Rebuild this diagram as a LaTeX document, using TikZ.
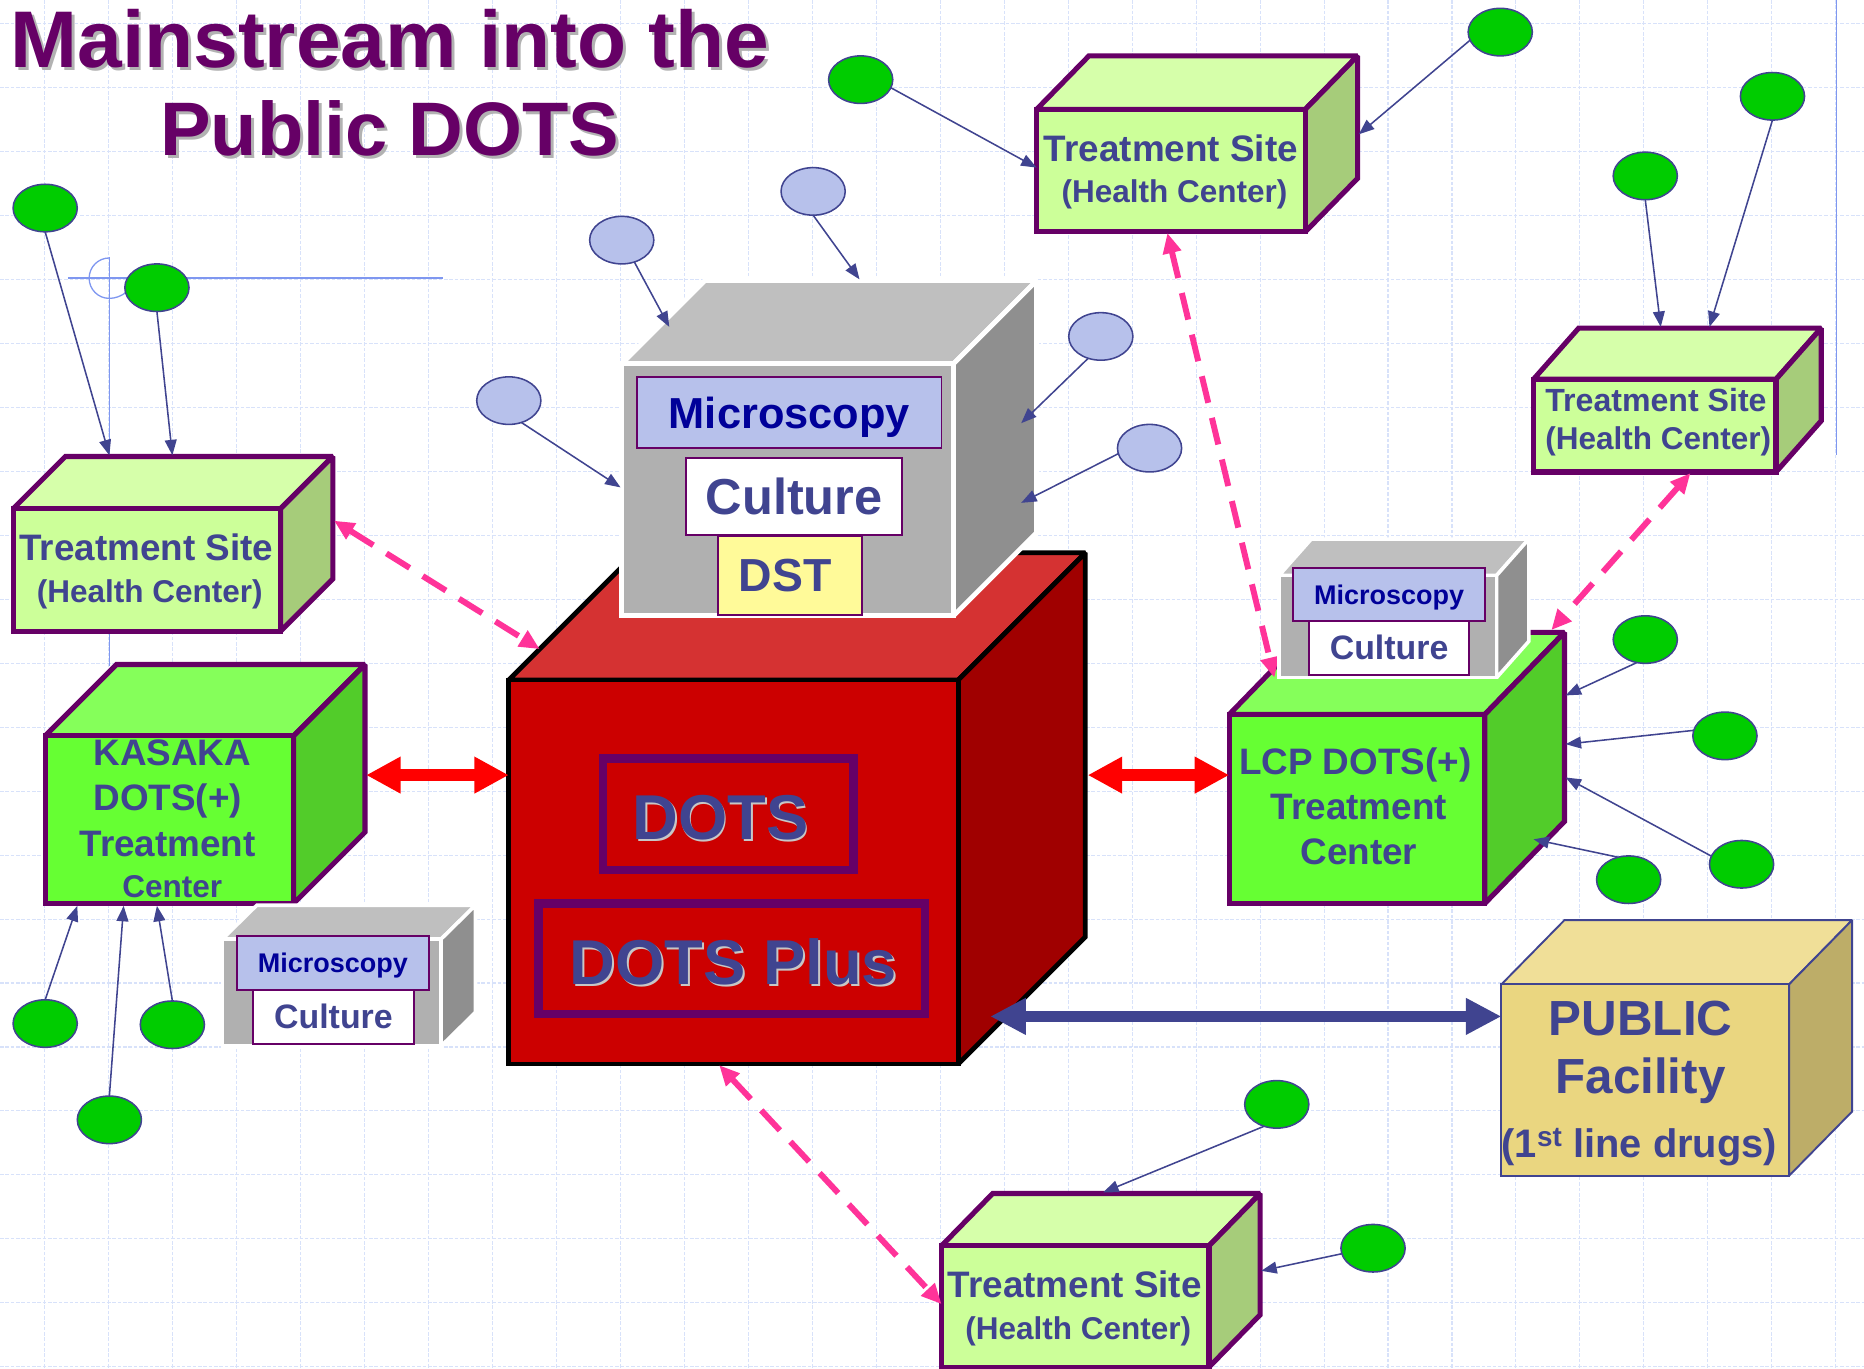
\documentclass[tikz,border=0pt]{standalone}
\usepackage{fontspec}
\setmainfont{Liberation Sans}
\usetikzlibrary{shapes.geometric,arrows.meta}
\definecolor{ink}{HTML}{404490}
\definecolor{plum}{HTML}{660066}
\definecolor{navyt}{HTML}{000099}
\definecolor{lav}{HTML}{B7C1EB}
\definecolor{gridc}{HTML}{D8E2FA}
\definecolor{rulec}{HTML}{7F97F0}
\definecolor{pinkc}{HTML}{FF3399}
\definecolor{leaf}{HTML}{00CC00}
\newcommand{\fs}[2]{\fontsize{#1}{#2}\selectfont}
% \cuboid{x1}{y1}{x2}{y2}{dx}{dy}{front}{top}{side}{edge}{lw}
\newcommand{\cuboid}[6]{%
  \def\cxa{#1}\def\cya{#2}\def\cxb{#3}\def\cyb{#4}\def\cdx{#5}\def\cdy{#6}\cuboidC}
\newcommand{\cuboidC}[5]{%
  \draw[line width=#5,draw=#4,line join=miter,miter limit=2,fill=#2]
    (\cxa,\cya) -- ({\cxa+\cdx},{\cya+\cdy}) -- ({\cxb+\cdx},{\cya+\cdy}) -- (\cxb,\cya) -- cycle;
  \draw[line width=#5,draw=#4,line join=miter,miter limit=2,fill=#3]
    (\cxb,\cya) -- ({\cxb+\cdx},{\cya+\cdy}) -- ({\cxb+\cdx},{\cyb+\cdy}) -- (\cxb,\cyb) -- cycle;
  \draw[line width=#5,draw=#4,line join=miter,fill=#1]
    (\cxa,\cya) rectangle (\cxb,\cyb);}
\newcommand{\link}[3]{\coordinate (#2) at (#3); \draw[feeder] (#1) -- (#2);}
\tikzset{
  x=1pt,y=-1pt,
  every node/.style={inner sep=0pt,outer sep=0pt},
  feeder/.style={draw=ink,line width=1.3pt,-{Triangle[length=13pt,width=10pt]}},
  redlink/.style={draw=red,line width=10pt,{Triangle[length=29pt,width=29pt]}-{Triangle[length=29pt,width=29pt]}},
  bluelink/.style={draw=ink,line width=9.5pt,{Triangle[length=30pt,width=29pt]}-{Triangle[length=30pt,width=29pt]}},
  pinklink/.style={draw=pinkc,line width=5pt,dash pattern=on 23pt off 13pt,{Triangle[length=17pt,width=15pt]}-{Triangle[length=17pt,width=15pt]}},
  green/.style={ellipse,draw=ink,fill=leaf,line width=1.3pt,minimum width=54pt,minimum height=40pt},
  lavel/.style={ellipse,draw=ink,fill=lav,line width=1.3pt,minimum width=54pt,minimum height=40pt},
  lab/.style={text=ink,align=center,font=\bfseries},
  tsl/.style={lab,font=\bfseries\fs{31}{35}},
  cen/.style={lab,font=\bfseries\fs{31}{38}},
  micl/.style={draw=plum,line width=1.6pt,fill=lav,text=navyt,text depth=0pt,font=\bfseries},
  cull/.style={draw=plum,line width=1.6pt,fill=white,text=ink,font=\bfseries},
  dstl/.style={draw=plum,line width=1.6pt,fill=yellow!40!white,text=ink,font=\bfseries},
  dotsbox/.style={draw=plum,line width=7pt,fill=none},
  ttl/.style={text=plum,font=\bfseries\fs{67.6}{74}},
  ttlb/.style={text=plum,font=\bfseries\fs{63.8}{74}},
  ttlsh/.style={text=black!30,font=\bfseries\fs{67.6}{74}},
  ttlbsh/.style={text=black!30,font=\bfseries\fs{63.8}{74}},
  bigt/.style={text=ink,font=\bfseries\fs{53.3}{60}},
  bigsh/.style={text=black!22,font=\bfseries\fs{53.3}{60}},
}
\begin{document}
\begin{tikzpicture}
\useasboundingbox (0,0) rectangle (1568,1151.6);
% background grid
\foreach \k in {0,...,28} {
  \draw[gridc,line width=.9pt,dash pattern=on 3pt off 1.5pt] ({37.8+53.8*\k},0) -- ({37.8+53.8*\k},1151.6);}
\foreach \k in {0,...,21} {
  \draw[gridc,line width=.9pt,dash pattern=on 3pt off 1.5pt] (0,{19.9+53.8*\k}) -- (1568,{19.9+53.8*\k});}
% slide guide lines
\draw[rulec,line width=1.3pt] (57,234) -- (373,234);
\draw[rulec,line width=1.3pt] (92,216) -- (92,560);
\draw[rulec,line width=1.1pt] (92,217) .. controls (82.6,217) and (75,224.5) .. (75,234) .. controls (75,243.5) and (82.6,251) .. (92,251) .. controls (97,251) and (102,249) .. (106,246);
\draw[rulec,line width=1.3pt] (1545,0) -- (1545,383);
% title
\node[ttlsh] at (330.5,35.5) {Mainstream into the};
\node[ttlbsh] at (330.5,110.5) {Public DOTS};
\node[ttl] (title1) at (328,33) {Mainstream into the};
\node[ttlb] (title2) at (328,108) {Public DOTS};
% boxes
\definecolor{tsf}{HTML}{CCFF99}\definecolor{tst}{HTML}{D6FFAA}\definecolor{tss}{HTML}{A6CC7A}
\definecolor{lcf}{HTML}{66FF33}\definecolor{lct}{HTML}{85FF5A}\definecolor{lcs}{HTML}{52CC2A}
\definecolor{gyf}{HTML}{B0B0B0}\definecolor{gyt}{HTML}{BFBFBF}\definecolor{gys}{HTML}{8F8F8F}
\definecolor{rdf}{HTML}{CC0000}\definecolor{rdt}{HTML}{D53232}\definecolor{rds}{HTML}{A00000}
\definecolor{pbf}{HTML}{EAD680}\definecolor{pbt}{HTML}{F0DF98}\definecolor{pbs}{HTML}{BDAD68}
% left treatment site
\cuboid{11}{428}{236}{531}{44}{-44}{tsf}{tst}{tss}{plum}{4.3pt}
\node[tsl] (tsleft) at (123,480.5) {Treatment Site\\{\fs{26.5}{35}\hspace*{6pt}(Health Center)}};
% KASAKA
\cuboid{38}{619}{247}{760}{60}{-60}{lcf}{lct}{lcs}{plum}{4.3pt}
\node[cen] (kasaka) at (141,689) {\hspace*{8pt}KASAKA\\DOTS(+)\\Treatment\\[-3pt]{\fs{26.5}{36}\hspace*{8pt}Center}};
% central red box
\cuboid{428}{572}{806}{895}{107}{-107}{rdf}{rdt}{rds}{black}{4pt}
\node[dotsbox,minimum width=211pt,minimum height=94pt] (dotsframe) at (612.5,685) {};
\node[dotsbox,minimum width=325pt,minimum height=93pt] (plusframe) at (615.5,806.5) {};
\node[bigsh] at (607.5,689.5) {DOTS};
\node[bigsh] at (618.5,810.5) {DOTS Plus};
\node[bigt] (dotst) at (606,688) {DOTS};
\node[bigt] (plust) at (617,809) {DOTS Plus};
% central grey lab box
\cuboid{523}{306}{802}{518}{70}{-70}{gyf}{gyt}{gys}{white}{4pt}
\node[micl,minimum width=256pt,minimum height=60pt,font=\bfseries\fs{36.5}{40}] (micro) at (664,347) {Microscopy};
\node[cull,minimum width=182pt,minimum height=65pt,font=\bfseries\fs{42.5}{46}] (cult) at (668,417.5) {Culture};
\node[dstl,minimum width=121pt,minimum height=66pt,font=\bfseries\fs{39}{44}] (dst) at (664.5,484) {\raisebox{-2pt}{DST}\hspace*{8pt}};
% top treatment site
\cuboid{872}{92}{1098}{195}{44}{-45}{tsf}{tst}{tss}{plum}{4.3pt}
\node[tsl] (tstop) at (985,144.5) {Treatment Site\\{\fs{26.5}{35}\hspace*{6pt}(Health Center)}};
% right treatment site
\cuboid{1290}{319}{1494}{397}{38}{-43}{tsf}{tst}{tss}{plum}{4.3pt}
\node[tsl,font=\bfseries\fs{27}{32}] (tsright) at (1393,355.5) {Treatment Site\\{\fs{26.5}{32}\hspace*{4pt}(Health Center)}};
% bottom treatment site
\cuboid{792}{1048}{1017}{1150}{43}{-44}{tsf}{tst}{tss}{plum}{4.3pt}
\node[tsl] (tsbottom) at (904,1100.5) {Treatment Site\\{\fs{26.5}{35}\hspace*{6pt}(Health Center)}};
% LCP
\cuboid{1034}{601}{1249}{760}{67}{-69}{lcf}{lct}{lcs}{plum}{4.3pt}
\node[cen] (lcp) at (1140,678) {LCP DOTS(+)\\\hspace*{6pt}Treatment\\\hspace*{6pt}Center};
% public facility
\cuboid{1263}{828}{1505}{989}{53}{-54}{pbf}{pbt}{pbs}{ink}{1.6pt}
\node[lab,font=\bfseries\fs{41.5}{49}] (public) at (1380,885) {PUBLIC\\Facility};
\node[lab,font=\bfseries\fs{33.5}{38}] (drugs) at (1379,965) {(1\textsuperscript{st} line drugs)};
% pink link (beneath the right lab box)
\coordinate (pa1) at (982,196); \coordinate (pa2) at (1072,570);
\draw[pinklink] (pa1) -- (pa2);
% small lab boxes
\cuboid{187}{790}{371}{880}{29}{-28.5}{gyf}{gyt}{gys}{white}{3pt}
\node[micl,minimum width=162pt,minimum height=45pt,font=\bfseries\fs{22.7}{26}] (microl) at (280,810) {Microscopy};
\node[cull,minimum width=135pt,minimum height=46pt,font=\bfseries\fs{28.5}{32}] (cultl) at (280.5,855.5) {\raisebox{1.5pt}{Culture}};
\cuboid{1076}{484}{1259}{570}{27}{-30.5}{gyf}{gyt}{gys}{white}{3pt}
\node[micl,minimum width=161pt,minimum height=44pt,font=\bfseries\fs{22.7}{26}] (micror) at (1168.5,500) {Microscopy};
\node[cull,minimum width=135pt,minimum height=46pt,font=\bfseries\fs{28.5}{32}] (cultr) at (1168.5,545) {\raisebox{1pt}{Culture}};
% ellipses
\node[green] (g1) at (38,175) {};
\node[green] (g2) at (132,242) {};
\node[green] (g3) at (38,861) {};
\node[green] (g4) at (145,862) {};
\node[green] (g5) at (92,942) {};
\node[green] (g6) at (724,67) {};
\node[green] (g7) at (1262,27) {};
\node[green] (g8) at (1384,148) {};
\node[green] (g9) at (1491,81) {};
\node[green] (g10) at (1384,538) {};
\node[green] (g11) at (1451,619) {};
\node[green] (g12) at (1465,727) {};
\node[green] (g13) at (1370,740) {};
\node[green] (g14) at (1074,929) {};
\node[green] (g15) at (1155,1050) {};
\node[lavel] (b1) at (523,202) {};
\node[lavel] (b2) at (684,161) {};
\node[lavel] (b3) at (926,283) {};
\node[lavel] (b4) at (967,377) {};
\node[lavel] (b5) at (428,337) {};
% feeders
\link{g1.south}{e1}{92,383}
\link{g2.south}{e2}{145,383}
\link{g3.north}{e3}{65,762}
\link{g4.north}{e4}{132,762}
\link{g5.north}{e5}{104,762}
\link{g6.-15}{e6}{872,141}
\link{g7.195}{e7}{1143,113}
\link{g8.south}{e8}{1397,275}
\link{g9.south}{e9}{1438,275}
\link{g10.250}{e10}{1317,585}
\link{g11.170}{e11}{1317,626}
\link{g12.165}{e12}{1317,654}
\link{g13.115}{e13}{1290,706}
\link{g14.240}{e14}{928,1003}
\link{g15.190}{e15}{1061,1069}
\link{b1.-60}{f1}{563,275}
\link{b2.south}{f2}{723,235}
\link{b3.240}{f3}{859,356}
\link{b4.190}{f4}{859,423}
\link{b5.-60}{f5}{522,410}
% main links
\coordinate (ra1) at (308,652); \coordinate (ra2) at (428,652);
\coordinate (rb1) at (915,652); \coordinate (rb2) at (1034,652);
\draw[redlink] (ra1) -- (ra2);
\draw[redlink] (rb1) -- (rb2);
\coordinate (bl1) at (833,855); \coordinate (bl2) at (1263,855);
\draw[bluelink] (bl1) -- (bl2);
\coordinate (pb1) at (281,438); \coordinate (pb2) at (454,546);
\draw[pinklink] (pb1) -- (pb2);
\coordinate (pc1) at (1422,398); \coordinate (pc2) at (1305,530);
\draw[pinklink] (pc1) -- (pc2);
\coordinate (pd1) at (605,896); \coordinate (pd2) at (792,1097);
\draw[pinklink] (pd1) -- (pd2);
\end{tikzpicture}
\end{document}
